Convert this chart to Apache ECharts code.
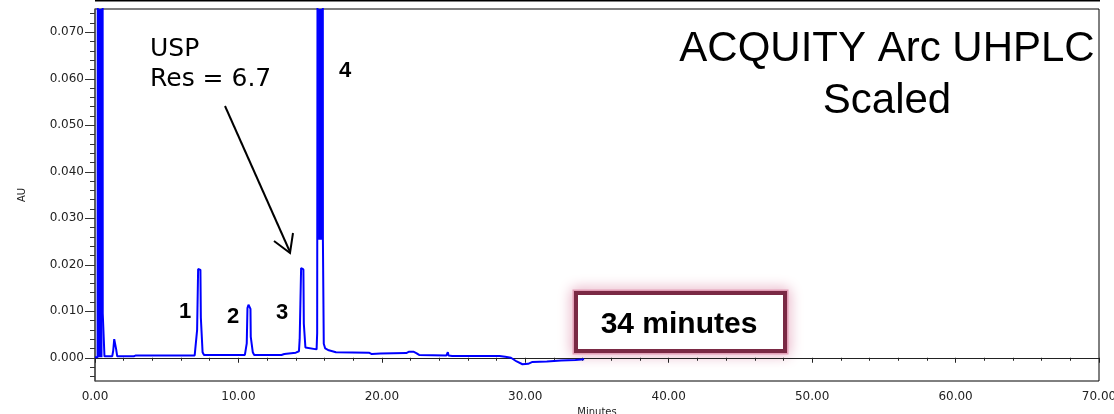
<!DOCTYPE html>
<html>
<head>
<meta charset="utf-8">
<script src="https://cdn.jsdelivr.net/npm/echarts@6/dist/echarts.min.js"></script>
<style>
  html, body { margin: 0; padding: 0; background: #fff; }
  #chart { width: 1114px; height: 414px; }
</style>
</head>
<body>
<div id="chart"></div>
<script>
// retention time (minutes) and absorbance (AU) of the trace
var timeMin = [
  0.00, 0.18, 0.21, 0.52, 0.54, 0.64, 0.66, 1.20, 1.27, 1.32, 1.34, 1.45, 1.47, 1.52, 1.55,
  2.70, 2.85, 6.95, 7.08, 7.12, 7.16, 7.19, 7.35, 7.38, 7.45, 7.50, 7.60,
  10.45, 10.55, 10.58, 10.61, 10.63, 10.70, 10.80, 10.84, 10.86, 10.93, 11.00, 11.10,
  13.00, 13.20, 14.00, 14.22, 14.27, 14.34, 14.37, 14.53, 14.56, 14.63, 14.67, 14.80,
  15.45, 15.49, 15.53, 15.55, 15.87, 15.89, 15.93, 15.95, 16.05, 16.30, 16.80,
  19.10, 19.30, 19.90, 21.70, 21.90, 22.20, 22.40, 22.60,
  24.50, 24.60, 24.65, 24.90, 25.00, 25.10, 25.50, 25.55, 25.60, 26.40, 26.45, 26.50,
  28.20, 28.60, 29.00, 29.40, 29.80, 30.20, 30.50, 31.50, 32.50, 33.50, 34.10
];
var absorbance = [
  0.0001, 0.0001, 0.2, 0.2, 0.0095, 0.0095, 0.0003, 0.0003, 0.0015, 0.0015, 0.0040, 0.0040, 0.0019, 0.0019, 0.0003,
  0.0003, 0.0005, 0.0005, 0.0008, 0.0060, 0.0060, 0.0191, 0.0189, 0.0086, 0.0086, 0.0012, 0.0006,
  0.0006, 0.0009, 0.0031, 0.0031, 0.0107, 0.0114, 0.0114, 0.0105, 0.0045, 0.0045, 0.0012, 0.0006,
  0.0006, 0.0008, 0.0011, 0.0014, 0.0040, 0.0040, 0.0193, 0.0190, 0.0073, 0.0073, 0.0022, 0.0018,
  0.0018, 0.0053, 0.0053, 0.2, 0.2, 0.0254, 0.0254, 0.0030, 0.0020, 0.0016, 0.0012,
  0.0011, 0.0008, 0.0009, 0.0010, 0.0013, 0.0013, 0.0010, 0.0006,
  0.0005, 0.0012, 0.0005, 0.0004, 0.0008, 0.0004, 0.0004, 0.0007, 0.0004, 0.0004, 0.0006, 0.0004,
  0.0004, 0.0002, 0.0000, -0.0008, -0.0014, -0.0013, -0.0009, -0.0008, -0.0006, -0.0005, -0.0003
];
// off-scale peak cores drawn solid: [start, end, from AU]
var offscaleBands = [[0.21, 0.52, 0.0001], [15.55, 15.87, 0.0254]];

// axis ticks
var yMajorTicks = [0, 0.01, 0.02, 0.03, 0.04, 0.05, 0.06, 0.07];
var yMinorTicks = [-0.004, -0.002, 0.002, 0.004, 0.006, 0.008, 0.012, 0.014, 0.016, 0.018,
  0.022, 0.024, 0.026, 0.028, 0.032, 0.034, 0.036, 0.038, 0.042, 0.044, 0.046, 0.048,
  0.052, 0.054, 0.056, 0.058, 0.062, 0.064, 0.066, 0.068, 0.072, 0.074];
var yMin = -0.005, yMax = 0.075;
var xMin = 0, xMax = 70, xStep = 10;

var peakLabels = ["1", "2", "3", "4"];

var trace = timeMin.map(function (t, i) { return [t, absorbance[i]]; });
var bands = offscaleBands.map(function (b) {
  return [{ xAxis: b[0], yAxis: b[2] }, { xAxis: b[1], yAxis: yMax }];
});

var chart = echarts.init(document.getElementById("chart"));
var labelFont = "DejaVu Sans";

var option = {
  backgroundColor: "#fff",
  animation: false,
  grid: { left: 95, right: 15, top: 9, bottom: 33, outerBoundsMode: "none", containLabel: false,
    show: true, borderColor: "#000", borderWidth: 1 },
  xAxis: {
    type: "value", min: xMin, max: xMax, interval: xStep,
    name: "Minutes", nameLocation: "middle", nameGap: 21,
    nameTextStyle: { fontFamily: labelFont, fontSize: 10, color: "#222" },
    axisLine: { lineStyle: { color: "#222", width: 1 } },
    axisTick: { length: 5, lineStyle: { color: "#222" } },
    minorTick: { show: true, splitNumber: 5, length: 3, lineStyle: { color: "#222" } },
    axisLabel: { fontFamily: labelFont, fontSize: 12, color: "#222", margin: 10,
      formatter: function (v) { return v.toFixed(2); } },
    splitLine: { show: false }
  },
  yAxis: [{
    type: "value", min: yMin, max: yMax,
    name: "AU", nameLocation: "middle", nameGap: 68, nameRotate: 90,
    nameTextStyle: { fontFamily: labelFont, fontSize: 10, color: "#222" },
    axisLine: { show: true, lineStyle: { color: "#555", width: 1.5 } },
    axisTick: { show: true, length: 10, customValues: yMajorTicks, lineStyle: { color: "#333" } },
    axisLabel: { fontFamily: labelFont, fontSize: 12, color: "#222", margin: 11,
      customValues: yMajorTicks, formatter: function (v) { return v.toFixed(3); } },
    splitLine: { show: false }
  }, {
    type: "value", min: yMin, max: yMax, position: "left",
    axisLine: { show: false },
    axisTick: { show: true, length: 5, customValues: yMinorTicks, lineStyle: { color: "#333" } },
    axisLabel: { show: false },
    splitLine: { show: false }
  }],
  series: [{
    type: "line",
    data: trace,
    showSymbol: false,
    clip: true,
    lineStyle: { color: "#0000ff", width: 2 },
    markArea: {
      silent: true,
      itemStyle: { color: "#0000ff", opacity: 1 },
      data: bands
    }
  }],
  graphic: [
    { type: "line", shape: { x1: 95, y1: 0.5, x2: 1100, y2: 0.5 }, style: { stroke: "#000", lineWidth: 2 } },
    { type: "text", x: 887, y: 23, style: { text: "ACQUITY Arc UHPLC\nScaled", font: "42px 'Liberation Sans'",
      fill: "#000", textAlign: "center", textVerticalAlign: "top", lineHeight: 52 } },
    { type: "text", x: 150, y: 34, style: { text: "USP\nRes = 6.7", font: "25px 'DejaVu Sans'",
      fill: "#000", textAlign: "left", textVerticalAlign: "top", lineHeight: 30 } },
    { type: "line", shape: { x1: 225, y1: 106, x2: 290, y2: 252 }, style: { stroke: "#000", lineWidth: 2 } },
    { type: "polyline", shape: { points: [[274, 241], [290, 253], [293, 233]] }, style: { stroke: "#000", lineWidth: 2, fill: null } },
    { type: "text", x: 185, y: 312, style: { text: peakLabels[0], font: "bold 22px 'Liberation Sans'", fill: "#000", textAlign: "center", textVerticalAlign: "middle" } },
    { type: "text", x: 233, y: 317, style: { text: peakLabels[1], font: "bold 22px 'Liberation Sans'", fill: "#000", textAlign: "center", textVerticalAlign: "middle" } },
    { type: "text", x: 282, y: 313, style: { text: peakLabels[2], font: "bold 22px 'Liberation Sans'", fill: "#000", textAlign: "center", textVerticalAlign: "middle" } },
    { type: "text", x: 345, y: 71, style: { text: peakLabels[3], font: "bold 22px 'Liberation Sans'", fill: "#000", textAlign: "center", textVerticalAlign: "middle" } },
    { type: "rect", shape: { x: 576, y: 293, width: 209, height: 58 },
      style: { fill: "none", stroke: "#e3a0b8", lineWidth: 7, shadowBlur: 14, shadowColor: "#dc8eaa" } },
    { type: "rect", shape: { x: 576, y: 293, width: 209, height: 58 },
      style: { fill: "#fff", stroke: "#7a2944", lineWidth: 4 } },
    { type: "text", x: 679, y: 325, style: { text: "34 minutes", font: "bold 30px 'Liberation Sans'",
      fill: "#000", textAlign: "center", textVerticalAlign: "middle" } }
  ]
};
chart.setOption(option);
</script>
</body>
</html>
